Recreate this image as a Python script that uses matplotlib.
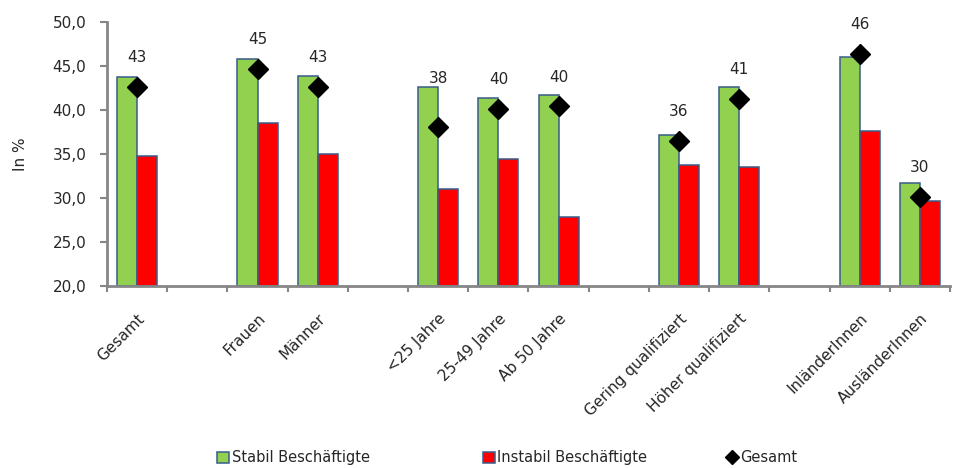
#!/usr/bin/env python3

import numpy as np
from matplotlib import pyplot as plt
from matplotlib.patches import Patch
from matplotlib.lines import Line2D

# empty strings are the gaps between groups, as in the source sheet
categories = ['Gesamt', '', 'Frauen', 'Männer', '', '<25 Jahre', '25-49 Jahre',
              'Ab 50 Jahre', '', 'Gering qualifiziert', 'Höher qualifiziert', '',
              'InländerInnen', 'AusländerInnen']
stabil   = [43.7, None, 45.8, 43.9, None, 42.6, 41.4, 41.7, None, 37.1, 42.6, None, 46.0, 31.7]
instabil = [34.8, None, 38.5, 35.0, None, 31.0, 34.4, 27.8, None, 33.7, 33.5, None, 37.6, 29.6]
gesamt   = [42.6, None, 44.7, 42.6, None, 38.1, 40.1, 40.4, None, 36.5, 41.3, None, 46.4, 30.1]
gesamt_labels = ['43', '', '45', '43', '', '38', '40', '40', '', '36', '41', '', '46', '30']
series = ['Stabil Beschäftigte', 'Instabil Beschäftigte', 'Gesamt']

GREEN = '#92d050'
RED = '#ff0000'
EDGE = '#385d8a'
AXIS = '#868686'
TEXT = '#262626'

plt.rcParams['font.family'] = ['DejaVu Sans']

def main():
    fig = plt.figure(figsize=(9.6, 4.68), dpi=100)
    ax = fig.add_axes([0.1115, 0.389, 0.878, 0.564])

    x = np.arange(len(categories))
    s = np.array([np.nan if v is None else v for v in stabil])
    r = np.array([np.nan if v is None else v for v in instabil])
    g = np.array([np.nan if v is None else v for v in gesamt])
    w = 1.0 / 3

    ax.bar(x - w / 2, s - 20, w, bottom=20, color=GREEN, edgecolor=EDGE, linewidth=1.1)
    ax.bar(x + w / 2, r - 20, w, bottom=20, color=RED, edgecolor=EDGE, linewidth=1.1)
    ax.plot(x, g, linestyle='none', marker='D', color='black', markersize=10)

    for xi, gi, si, lab in zip(x, g, s, gesamt_labels):
        if not lab:
            continue
        # label sits above the diamond, pushed clear of the green bar if needed
        y = gi
        off = 21
        if si - gi > 3:
            y = si
            off = 6
        ax.annotate(lab, (xi, y), xytext=(0, off), textcoords='offset points',
                    ha='center', va='center', fontsize=11, color=TEXT)

    ax.set_xlim(-0.5, len(categories) - 0.5)
    ax.set_ylim(20, 50)
    yt = np.arange(20, 51, 5)
    ax.set_yticks(yt)
    ax.set_yticklabels([('%.1f' % v).replace('.', ',') for v in yt], fontsize=11, color=TEXT)
    ax.yaxis.set_tick_params(length=5, width=1.5, color=AXIS, pad=10)
    ax.set_ylabel('In %', fontsize=11, color=TEXT)
    ax.yaxis.set_label_coords(-0.094, 0.5)

    # boundary ticks without labels, labels on the category centres
    ax.set_xticks(np.arange(-0.5, len(categories)))
    ax.set_xticklabels([])
    ax.xaxis.set_tick_params(which='major', length=4, width=1.5, color=AXIS)
    named = [i for i, c in enumerate(categories) if c]
    ax.set_xticks(named, minor=True)
    ax.set_xticklabels([categories[i] for i in named], minor=True, rotation=45,
                       ha='right', va='top', rotation_mode='anchor', fontsize=11,
                       color=TEXT)
    ax.xaxis.set_tick_params(which='minor', length=0, pad=18)

    for side in ('top', 'right'):
        ax.spines[side].set_visible(False)
    for side in ('left', 'bottom'):
        ax.spines[side].set_color(AXIS)
        ax.spines[side].set_linewidth(2)

    handles = [
        Patch(facecolor=GREEN, edgecolor=EDGE, linewidth=1.1),
        Patch(facecolor=RED, edgecolor=EDGE, linewidth=1.1),
        Line2D([], [], linestyle='none', marker='D', color='black', markersize=7),
    ]
    # excel spaces the legend entries unevenly, so one small legend per entry
    for h, name, lx in zip(handles, series, (0.226, 0.503, 0.756)):
        fig.legend([h], [name], loc='center left', bbox_to_anchor=(lx, 0.022),
                   frameon=False, fontsize=10.5, handlelength=0.8, handleheight=0.8,
                   handletextpad=0.2, borderpad=0, borderaxespad=0, labelcolor=TEXT)

    fig.savefig('out.png', dpi=100)

if __name__ == '__main__':
    main()
